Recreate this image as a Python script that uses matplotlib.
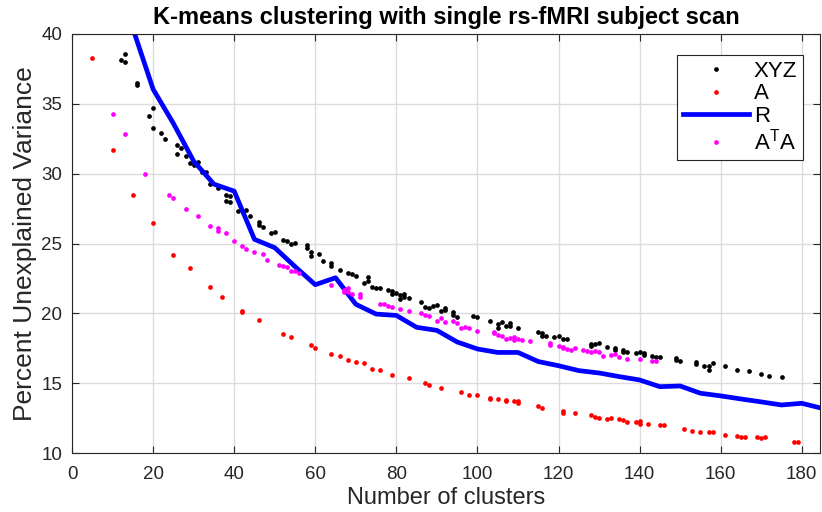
import matplotlib
matplotlib.use("Agg")
import matplotlib.pyplot as plt
import numpy as np

# XYZ (black dots)
xyz_k = [12, 13, 13, 16, 16, 19, 20, 20, 22, 23, 26, 27, 26, 28, 29, 31, 30, 32, 33,
         34, 36, 38, 39, 38, 39, 41, 43, 44, 46, 46, 47, 49, 50, 52, 53, 54, 55, 58, 58,
         59, 59, 61, 62, 64, 64, 66, 68, 69, 70, 73, 73, 72, 74, 75, 76, 78, 79, 79, 80,
         81, 82, 81, 82, 83, 86, 87, 88, 89, 90, 91, 92, 92, 94, 94, 95, 99, 100, 103,
         105, 106, 107, 108, 105, 108, 110, 115, 116, 116, 117, 119, 120, 121, 122, 128,
         128, 129, 130, 132, 134, 134, 136, 136, 137, 139, 140, 141, 141, 143, 144, 145,
         149, 149, 150, 154, 154, 156, 157, 157, 158, 161, 164, 167, 170, 172, 175]
xyz_v = [38.16, 38.57, 38.02, 36.5, 36.35, 34.13, 34.7, 33.3, 32.9, 32.48, 32.05, 31.84,
         31.39, 31.27, 30.79, 30.86, 30.62, 30.1, 30.14, 29.26, 29.0, 28.5, 28.43, 28.07,
         27.96, 27.35, 27.4, 27.0, 26.55, 26.33, 26.16, 25.73, 25.85, 25.22, 25.2, 24.96,
         25.06, 24.9, 24.67, 24.38, 24.1, 24.24, 23.72, 23.58, 23.38, 23.08, 22.92, 22.84,
         22.66, 22.58, 22.34, 22.15, 21.9, 21.85, 21.8, 21.68, 21.6, 21.36, 21.44, 21.3,
         21.4, 21.05, 21.2, 21.08, 20.84, 20.48, 20.37, 20.53, 20.6, 20.2, 20.23, 20.4,
         20.12, 19.9, 19.76, 19.81, 19.76, 19.48, 19.24, 19.4, 19.1, 19.29, 18.92, 19.1,
         18.92, 18.7, 18.57, 18.4, 18.38, 18.33, 18.4, 18.14, 18.14, 17.8, 17.65, 17.8,
         17.85, 17.62, 17.55, 17.38, 17.38, 17.2, 17.21, 17.19, 17.26, 17.19, 17.0, 16.95,
         16.9, 16.9, 16.78, 16.64, 16.6, 16.55, 16.4, 16.2, 15.95, 16.2, 16.43, 16.2,
         15.95, 15.9, 15.64, 15.52, 15.47]

# A (red dots)
a_k = [5, 10, 15, 20, 25, 29, 34, 37, 42, 42, 46, 52, 54, 59, 60, 64, 66, 68, 70, 72, 74,
       76, 79, 83, 87, 88, 91, 96, 98, 100, 103, 103, 105, 107, 107, 109, 110, 110, 115,
       116, 121, 121, 124, 128, 129, 130, 132, 133, 135, 136, 137, 139, 140, 140, 142,
       145, 146, 151, 153, 155, 157, 158, 161, 164, 165, 166, 169, 170, 171, 178, 179]
a_v = [38.26, 31.7, 28.5, 26.5, 24.18, 23.23, 21.9, 21.2, 20.17, 20.08, 19.5, 18.55, 18.3,
       17.74, 17.55, 17.07, 16.95, 16.67, 16.55, 16.47, 16.02, 15.93, 15.59, 15.37, 15.02,
       14.87, 14.68, 14.35, 14.18, 14.18, 13.94, 13.9, 13.86, 13.8, 13.7, 13.7, 13.7, 13.6,
       13.37, 13.2, 13.04, 12.88, 12.85, 12.75, 12.6, 12.49, 12.44, 12.54, 12.42, 12.33,
       12.2, 12.2, 12.3, 12.07, 12.08, 12.0, 12.0, 11.72, 11.6, 11.53, 11.53, 11.5, 11.29,
       11.24, 11.17, 11.17, 11.13, 11.05, 11.13, 10.77, 10.77]

# R (blue line)
r_k = list(range(15, 190, 5))
r_v = [40.4, 36.05, 33.6, 30.9, 29.25, 28.75, 25.3, 24.7, 23.35, 22.05, 22.55, 20.65,
       19.95, 19.85, 19.0, 18.78, 17.95, 17.45, 17.2, 17.2, 16.55, 16.25, 15.9, 15.73,
       15.47, 15.23, 14.75, 14.8, 14.28, 14.09, 13.87, 13.66, 13.44, 13.56, 13.2]

# A^T A (magenta dots)
ata_k = [10, 13, 18, 24, 25, 28, 31, 34, 36, 36, 38, 40, 42, 43, 45, 47, 48, 51, 52, 53,
         54, 55, 56, 64, 67, 67, 68, 68, 69, 71, 71, 76, 77, 78, 79, 81, 83, 86, 87, 88,
         90, 91, 92, 94, 95, 96, 97, 98, 100, 104, 104, 105, 106, 107, 108, 109, 109, 110,
         111, 113, 118, 118, 120, 121, 121, 122, 123, 124, 126, 127, 128, 129, 130, 131,
         133, 134, 135, 137, 140, 143, 144]
ata_v = [34.25, 32.84, 29.98, 28.5, 28.24, 27.47, 26.97, 26.28, 26.1, 25.93, 25.73, 25.18,
         24.84, 24.6, 24.37, 24.25, 23.82, 23.46, 23.39, 23.3, 23.06, 23.06, 22.92, 22.05,
         21.68, 21.5, 21.84, 21.5, 21.4, 21.4, 21.2, 20.67, 20.67, 20.55, 20.48, 20.29,
         20.2, 20.0, 19.88, 19.84, 19.46, 19.65, 19.36, 19.46, 19.29, 18.98, 19.05, 18.98,
         18.74, 18.69, 18.57, 18.45, 18.38, 18.17, 18.22, 18.29, 18.1, 18.17, 18.1, 18.03,
         17.86, 17.7, 17.69, 17.6, 17.5, 17.45, 17.38, 17.55, 17.38, 17.31, 17.26, 17.31,
         17.26, 16.97, 17.02, 17.1, 16.86, 16.74, 16.74, 16.62, 16.62]

plt.rcParams['font.family'] = ['Liberation Sans', 'DejaVu Sans']
dark = '#262626'

fig = plt.figure(figsize=(8.22, 5.12), dpi=100)
ax = fig.add_axes([0.0876, 0.1152, 0.9100, 0.8184])

ms = 3.4
ax.plot(xyz_k, xyz_v, 'o', color='black', ms=ms, mew=0, label='XYZ')
ax.plot(a_k, a_v, 'o', color='red', ms=ms, mew=0, label='A')
ax.plot(r_k, r_v, '-', color='blue', lw=3.4, label='R')
ax.plot(ata_k, ata_v, 'o', color='magenta', ms=ms, mew=0, label=r'A$^\mathregular{T}$A')

ax.set_xlim(0, 184.5)
ax.set_ylim(10, 40)
ax.set_xticks(np.arange(0, 181, 20))
ax.set_yticks(np.arange(10, 41, 5))
ax.grid(True, color='#dcdcdc', lw=1)
ax.set_axisbelow(True)
ax.tick_params(direction='in', top=True, right=True, length=5, width=0.8,
               labelsize=13.5, colors=dark)
ax.tick_params(axis='x', pad=9)
ax.tick_params(axis='y', pad=7)
for s in ax.spines.values():
    s.set_color(dark)
    s.set_linewidth(0.8)

ax.set_xlabel('Number of clusters', fontsize=17, color=dark, labelpad=3)
ax.set_ylabel('Percent Unexplained Variance', fontsize=19, color=dark, labelpad=3)
ax.set_title('K-means clustering with single rs-fMRI subject scan', fontsize=17,
             fontweight='bold', pad=7)

leg = ax.legend(loc='upper right', bbox_to_anchor=(0.977, 0.95), fontsize=16,
                fancybox=False, edgecolor=dark, framealpha=1, borderpad=0.25,
                handlelength=3.0, handletextpad=0.2, labelspacing=0.08,
                borderaxespad=0)
leg.get_frame().set_linewidth(0.8)

fig.savefig('out.png', dpi=100)
